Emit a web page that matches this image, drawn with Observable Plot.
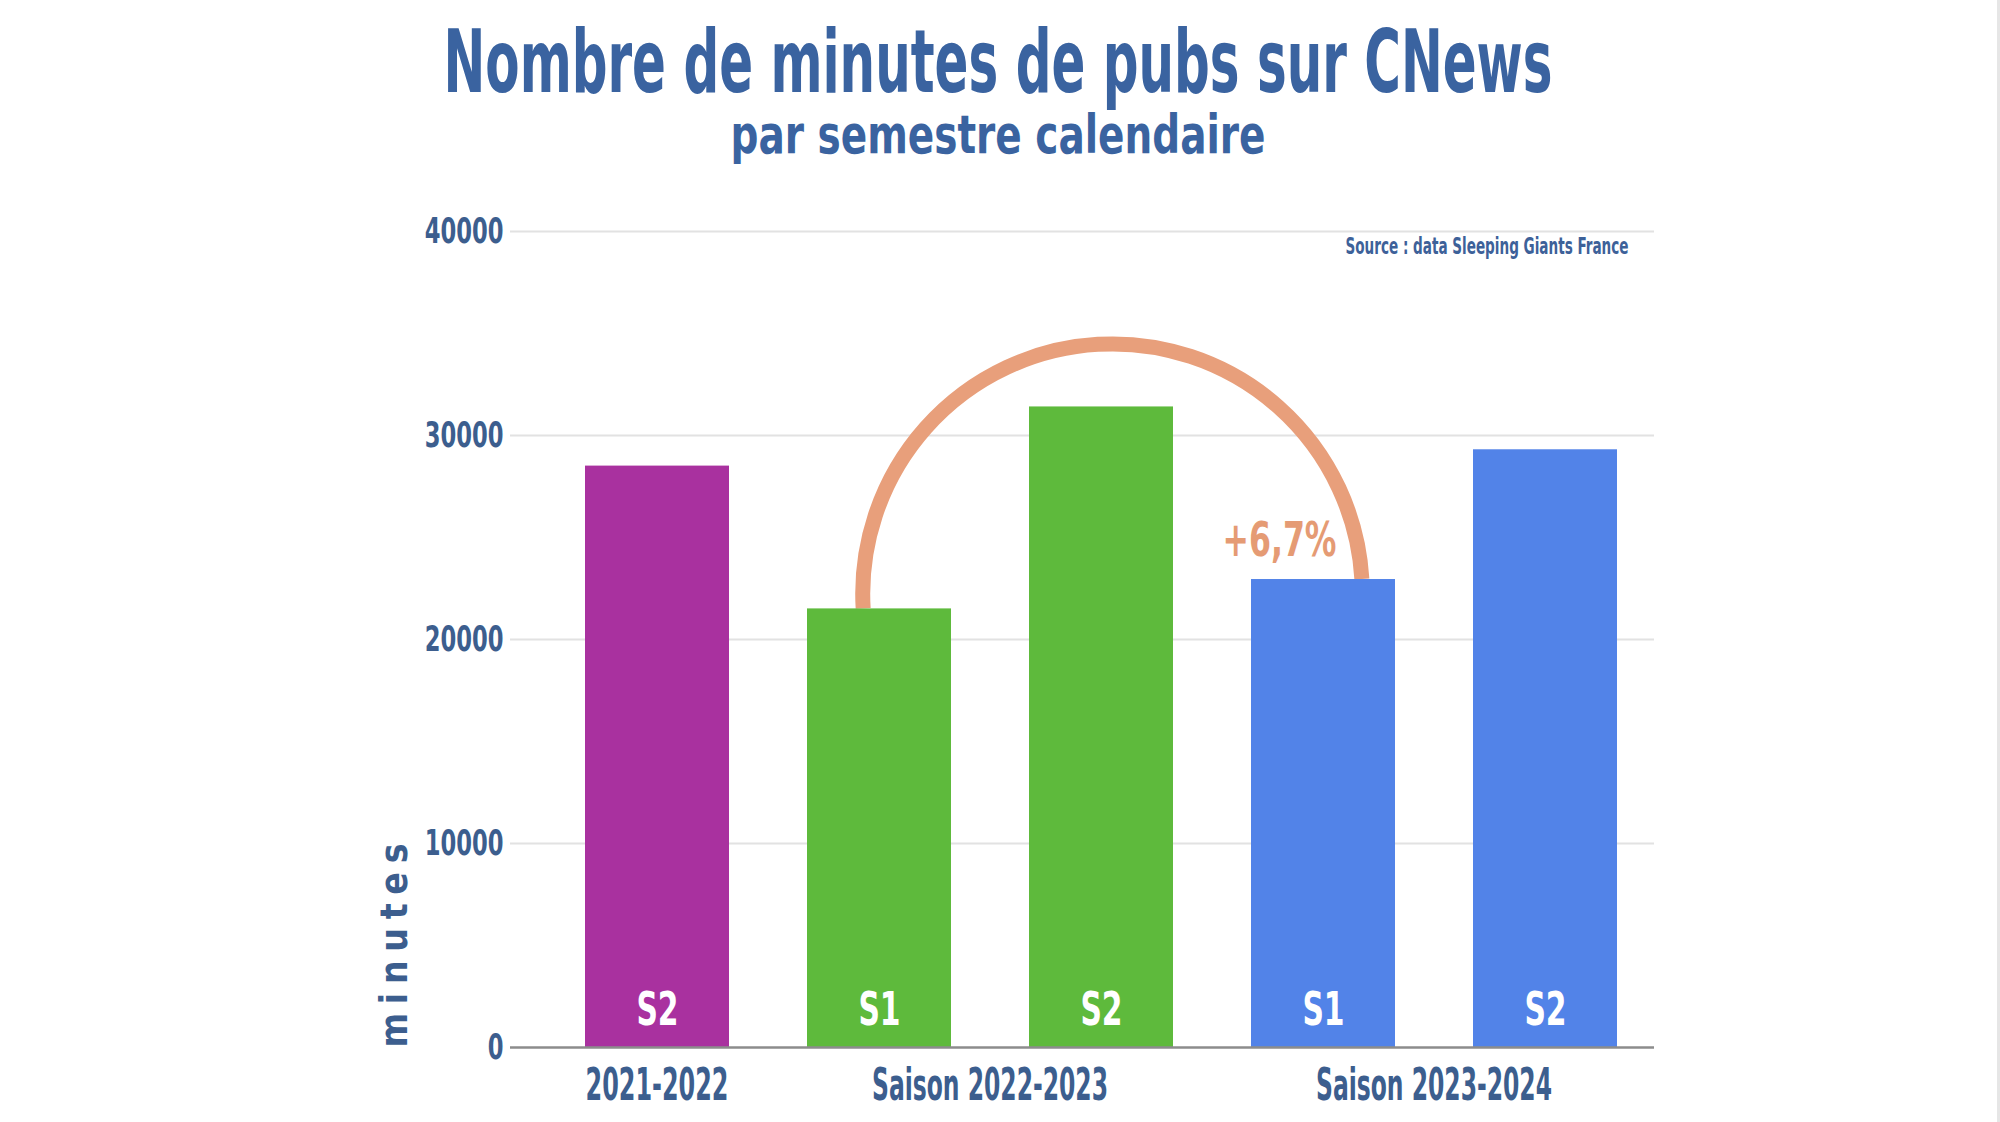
<!DOCTYPE html>
<html><head><meta charset="utf-8">
<script src="https://cdn.jsdelivr.net/npm/d3@7"></script>
<script src="https://cdn.jsdelivr.net/npm/@observablehq/plot@0.6"></script>
<style>
html,body{margin:0;padding:0;background:#fff;}
body{width:2000px;height:1122px;position:relative;overflow:hidden;}
#header{position:absolute;left:0;top:0;overflow:visible;}
#chart{position:absolute;left:0;top:170px;}
#chart text{font-weight:700;}
#edge{position:absolute;right:0;top:0;width:3px;height:1122px;background:#e6e6e6;}
</style></head><body>
<svg id="header" width="2000" height="170"></svg>
<div id="chart"></div>
<div id="edge"></div>
<script>
const FONT = "'Liberation Sans Narrow','DejaVu Sans Condensed','Roboto Condensed','Liberation Sans',Arial,sans-serif";

// ---- data ----
const titleText = "Nombre de minutes de pubs sur CNews";
const subtitleText = "par semestre calendaire";
const sourceText = "Source : data Sleeping Giants France";
const yLabel = "minutes";
const semesters = ["S2", "S1", "S2", "S1", "S2"];
const seasonOf = ["2021-2022", "Saison 2022-2023", "Saison 2022-2023", "Saison 2023-2024", "Saison 2023-2024"];
const minutes = [28500, 21500, 31400, 22940, 29300];
const seasonLabels = ["2021-2022", "Saison 2022-2023", "Saison 2023-2024"];
const seasonColors = ["#a9319f", "#5eba3c", "#5283e8"];
const yTicks = [0, 10000, 20000, 30000, 40000];
const compareFrom = 1, compareTo = 3;

// ---- header ----
const header = d3.select("#header");
function headerText(txt, x, y, size, width) {
  header.append("text").attr("x", x).attr("y", y).attr("text-anchor", "middle")
    .attr("font-family", FONT).attr("font-weight", 700).attr("font-size", size)
    .attr("fill", "#3a63a0").attr("textLength", width).attr("lengthAdjust", "spacingAndGlyphs")
    .text(txt);
}
headerText(titleText, 998, 92, 88, 1109);
headerText(subtitleText, 998, 153, 53, 535);

// ---- chart ----
const rows = semesters.map((s, i) => ({id: seasonOf[i] + " · " + s, sem: s, season: seasonOf[i], value: minutes[i]}));
const change = minutes[compareTo] / minutes[compareFrom] - 1;
const pctText = (change >= 0 ? "+" : "") + (change * 100).toFixed(1).replace(".", ",") + "%";

function bandOf(scales) {
  const x = scales.x;
  const bw = typeof x.bandwidth === "function" ? x.bandwidth() : (scales.scales && scales.scales.x ? scales.scales.x.bandwidth : 0);
  return {x, bw};
}

const seasonMark = (index, scales) => {
  const {x, bw} = bandOf(scales);
  const y0 = scales.y(0);
  const g = d3.create("svg:g").attr("font-family", FONT).attr("font-size", 44)
    .attr("fill", "#3c5e8e").attr("text-anchor", "middle");
  for (const s of seasonLabels) {
    const cx = d3.mean(rows.filter(r => r.season === s), r => x(r.id) + bw / 2);
    g.append("text").attr("x", cx).attr("y", y0 + 53).text(s);
  }
  return g.node();
};

const arcMark = (index, scales) => {
  const {x, bw} = bandOf(scales);
  const a = rows[compareFrom], b = rows[compareTo];
  const x1 = x(a.id) + bw * 0.39, y1 = scales.y(a.value);
  const x2 = x(b.id) + bw * 0.77, y2 = scales.y(b.value);
  const r = Math.hypot(x2 - x1, y2 - y1) / 2;
  return d3.create("svg:path")
    .attr("d", `M${x1},${y1}A${r},${r} 0 0 1 ${x2},${y2}`)
    .attr("fill", "none").attr("stroke", "#e89f7b").attr("stroke-width", 15)
    .node();
};

const chart = Plot.plot({
  width: 2000, height: 952,
  marginLeft: 510, marginRight: 346, marginTop: 61, marginBottom: 75,
  style: {background: "transparent", fontFamily: FONT, overflow: "visible"},
  x: {domain: rows.map(d => d.id), paddingInner: 0.35, paddingOuter: 0.243, align: 0.67, axis: null},
  y: {domain: [0, 40000]},
  color: {domain: seasonLabels, range: seasonColors},
  marks: [
    Plot.gridY(yTicks.filter(t => t > 0), {stroke: "#e2e2e2", strokeOpacity: 1, strokeWidth: 2}),
    Plot.axisY(yTicks, {tickSize: 0, tickPadding: 7, fontSize: 35, color: "#3c5e8e", label: null, tickFormat: d => String(d)}),
    arcMark,
    Plot.barY(rows, {x: "id", y: "value", fill: "season"}),
    Plot.ruleY([0], {stroke: "#8c8c8c", strokeWidth: 2.5}),
    Plot.text(rows, {x: "id", y: d => 0, text: "sem", lineAnchor: "bottom", dy: -23, fill: "white", fontSize: 46}),
    seasonMark,
    Plot.text([rows[compareTo]], {x: "id", y: "value", text: d => pctText, textAnchor: "end", lineAnchor: "bottom", dx: 13, dy: -24, fontSize: 48, fill: "#e59b74"}),
    Plot.text([sourceText], {frameAnchor: "top-right", text: d => d, textAnchor: "end", lineAnchor: "bottom", dx: -26, dy: 22, fontSize: 23.5, fill: "#3d6199"}),
    Plot.text([yLabel], {frameAnchor: "bottom-left", text: d => d, rotate: -90, textAnchor: "start", dx: -104, fontSize: 37, fill: "#3c5e8e"})
  ]
});
document.getElementById("chart").append(chart);

// condensed look (DIN Condensed-like)
const targetWidths = {"2021-2022": 143, "Saison 2022-2023": 236, "Saison 2023-2024": 236};
targetWidths[sourceText] = 283;
targetWidths[pctText] = 114;
const K = 0.72;
d3.select(chart).selectAll("text").each(function () {
  const t = this.textContent;
  if (this.querySelector("tspan")) return;
  if (t === yLabel) {
    this.setAttribute("textLength", 204);
    this.setAttribute("lengthAdjust", "spacing");
    return;
  }
  const w = this.getComputedTextLength();
  const target = targetWidths[t] != null ? targetWidths[t] : w * K;
  this.setAttribute("textLength", target);
  this.setAttribute("lengthAdjust", "spacingAndGlyphs");
});
</script>
</body></html>
